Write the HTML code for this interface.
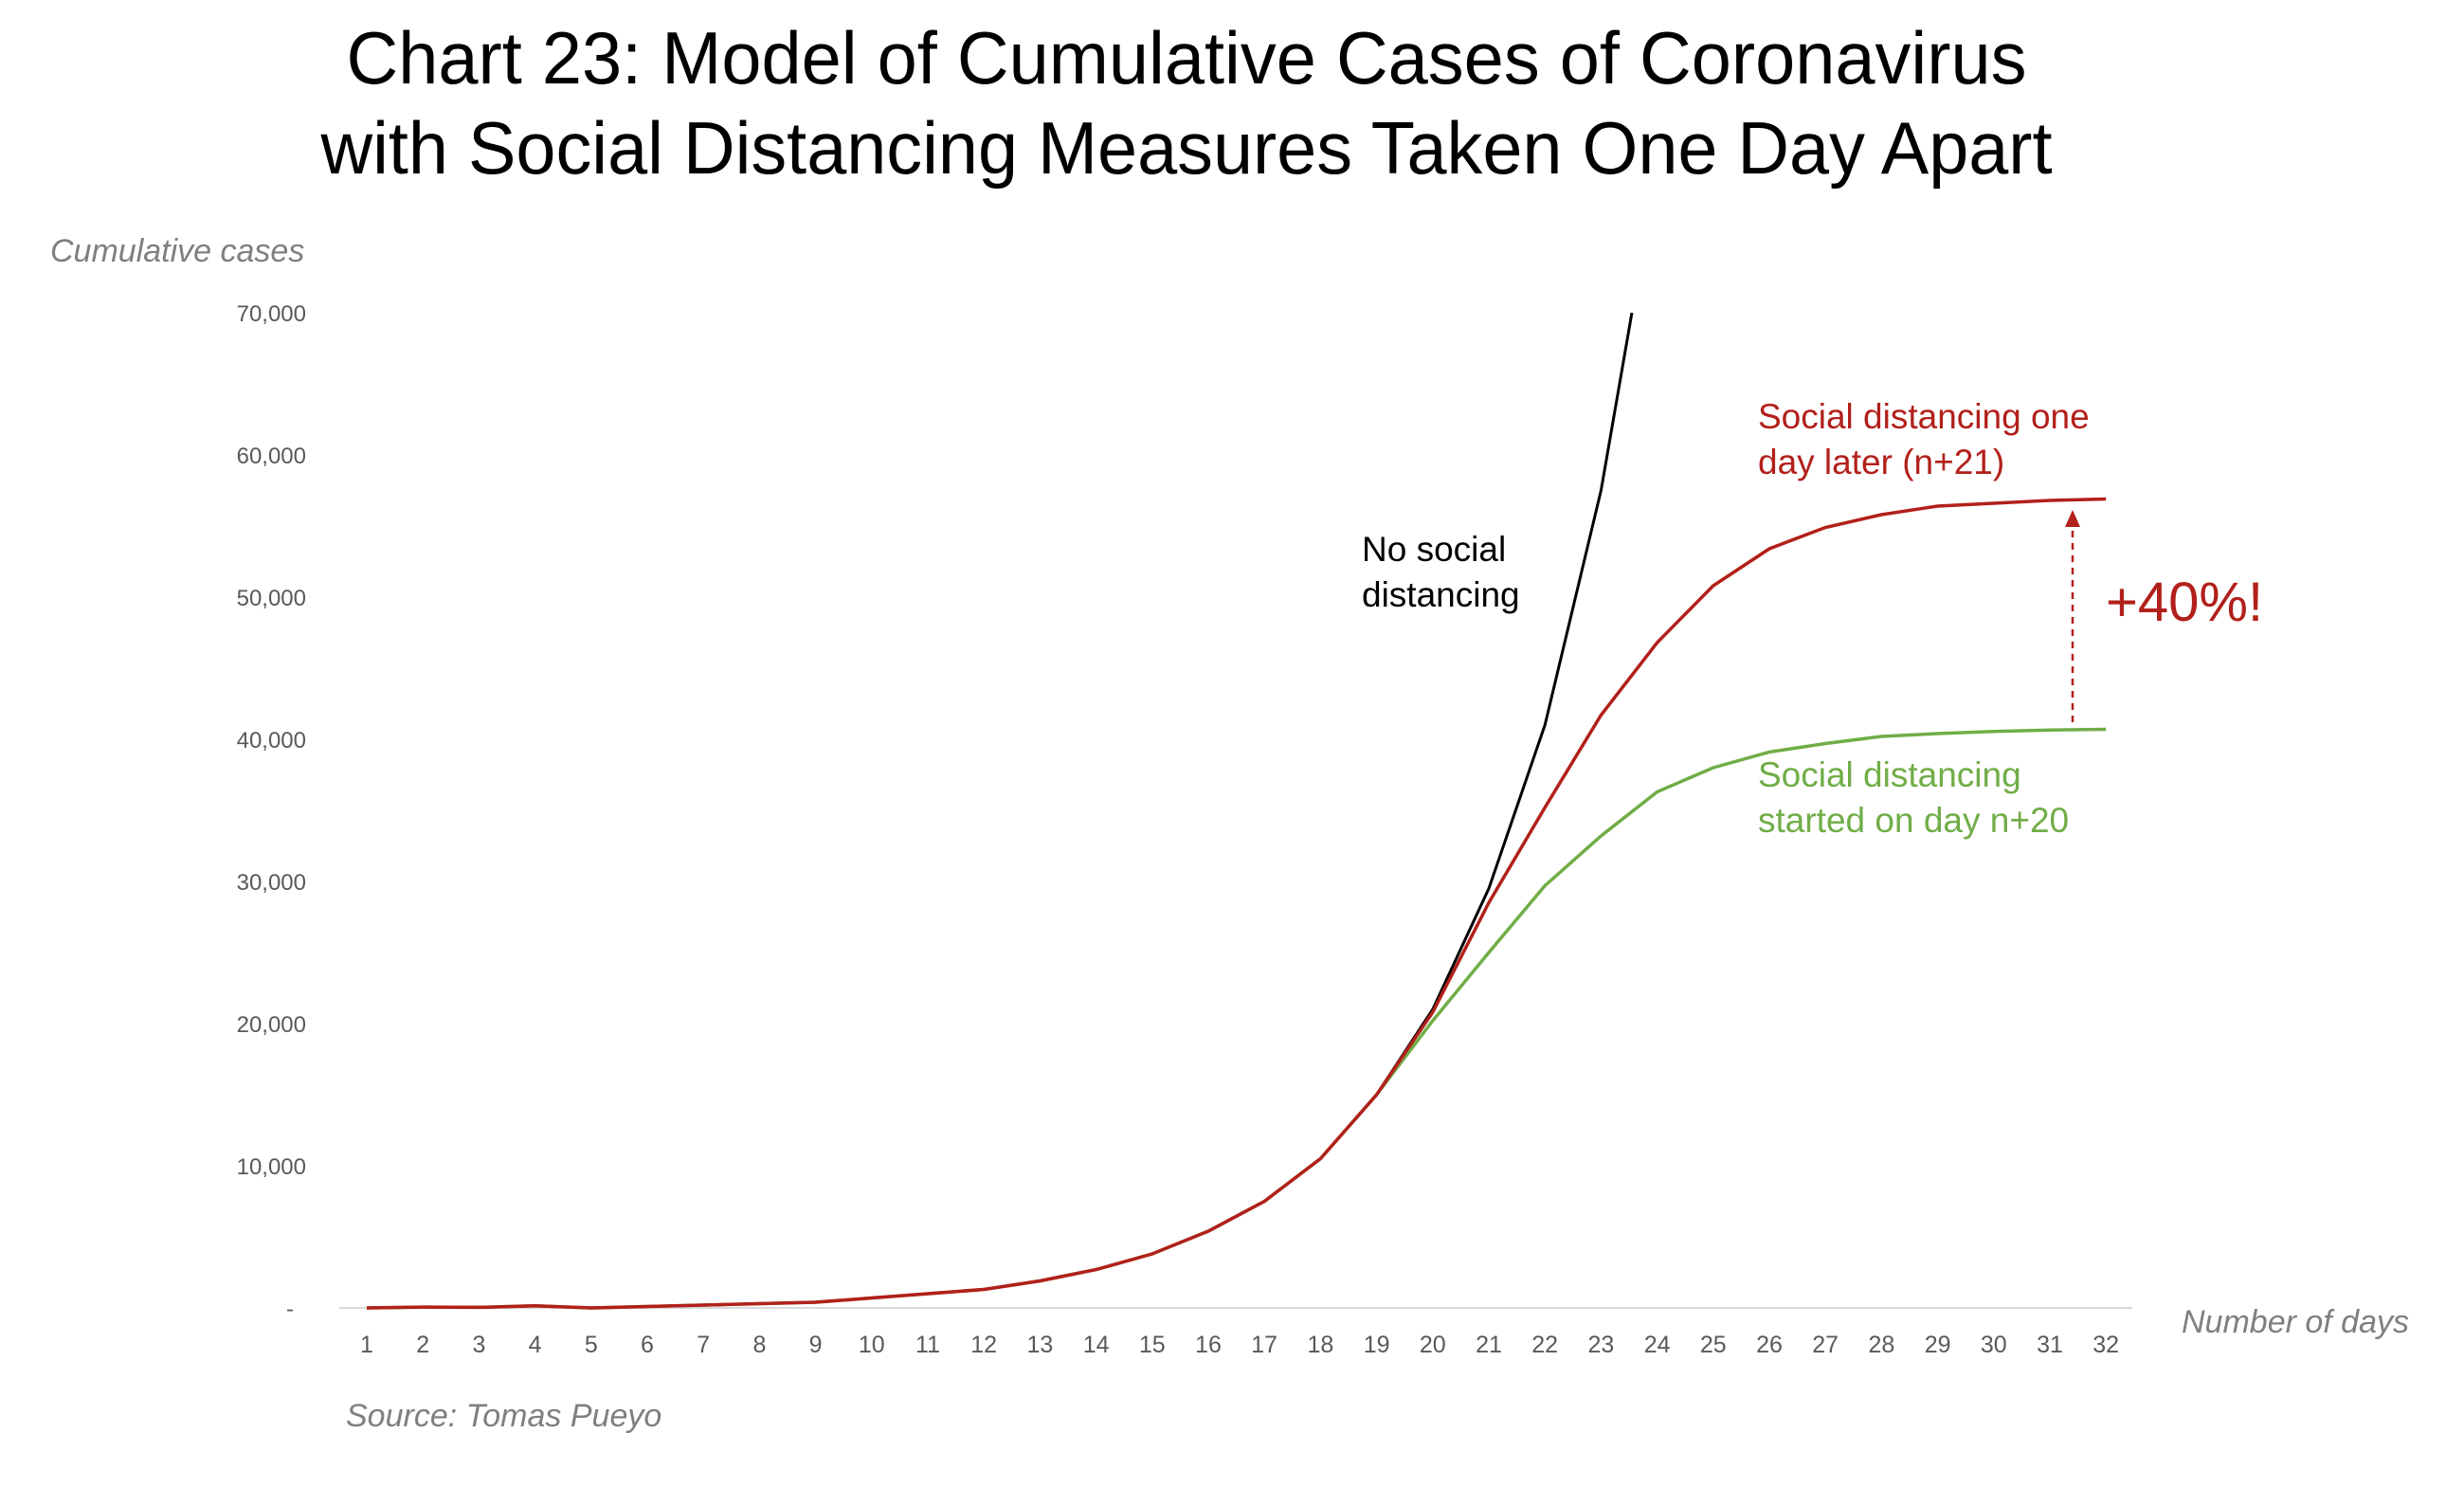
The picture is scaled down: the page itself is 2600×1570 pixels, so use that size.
<!DOCTYPE html>
<html><head><meta charset="utf-8"><style>html,body{margin:0;padding:0;background:#fff}svg{display:block}</style></head>
<body>
<svg width="2600" height="1570" viewBox="0 0 2600 1570" xmlns="http://www.w3.org/2000/svg" font-family="Liberation Sans, sans-serif">
<rect width="2600" height="1570" fill="#fff"/>
<text x="1252" y="88" font-size="78" text-anchor="middle" textLength="1773" lengthAdjust="spacingAndGlyphs">Chart 23: Model of Cumulative Cases of Coronavirus</text>
<text x="1252" y="183" font-size="78" text-anchor="middle" textLength="1827" lengthAdjust="spacingAndGlyphs">with Social Distancing Measures Taken One Day Apart</text>
<text x="53" y="276" font-size="34" font-style="italic" fill="#7f7f7f">Cumulative cases</text>
<g font-size="24" fill="#595959" text-anchor="end">
<text x="323" y="339">70,000</text><text x="323" y="489">60,000</text><text x="323" y="639">50,000</text><text x="323" y="789">40,000</text><text x="323" y="939">30,000</text><text x="323" y="1089">20,000</text><text x="323" y="1239">10,000</text><text x="310" y="1389">-</text>
</g>
<line x1="358" y1="1380" x2="2250" y2="1380" stroke="#d9d9d9" stroke-width="2"/>
<g font-size="25" fill="#595959" text-anchor="middle">
<text x="387" y="1427">1</text><text x="446.2" y="1427">2</text><text x="505.4" y="1427">3</text><text x="564.6" y="1427">4</text><text x="623.8" y="1427">5</text><text x="683" y="1427">6</text><text x="742.2" y="1427">7</text><text x="801.4" y="1427">8</text><text x="860.6" y="1427">9</text><text x="919.8" y="1427">10</text><text x="979" y="1427">11</text><text x="1038.2" y="1427">12</text><text x="1097.4" y="1427">13</text><text x="1156.6" y="1427">14</text><text x="1215.8" y="1427">15</text><text x="1275" y="1427">16</text><text x="1334.2" y="1427">17</text><text x="1393.4" y="1427">18</text><text x="1452.6" y="1427">19</text><text x="1511.8" y="1427">20</text><text x="1571" y="1427">21</text><text x="1630.2" y="1427">22</text><text x="1689.4" y="1427">23</text><text x="1748.6" y="1427">24</text><text x="1807.8" y="1427">25</text><text x="1867" y="1427">26</text><text x="1926.2" y="1427">27</text><text x="1985.4" y="1427">28</text><text x="2044.6" y="1427">29</text><text x="2103.8" y="1427">30</text><text x="2163" y="1427">31</text><text x="2222.2" y="1427">32</text>
</g>
<text x="2542" y="1406" font-size="34" font-style="italic" fill="#7f7f7f" text-anchor="end">Number of days</text>
<text x="365" y="1505" font-size="34" font-style="italic" fill="#7f7f7f">Source: Tomas Pueyo</text>
<polyline id="blk" fill="none" stroke="#000" stroke-width="3"/>
<polyline id="grn" fill="none" stroke="#70ad47" stroke-width="3.5"/>
<polyline id="red" fill="none" stroke="#b2201a" stroke-width="3.5"/>
<text x="1437" y="592" font-size="37" fill="#000">No social</text>
<text x="1437" y="640" font-size="37" fill="#000">distancing</text>
<text x="1855" y="452" font-size="37" fill="#b2201a">Social distancing one</text>
<text x="1855" y="500" font-size="37" fill="#b2201a">day later (n+21)</text>
<text x="1855" y="830" font-size="37" fill="#70ad47">Social distancing</text>
<text x="1855" y="878" font-size="37" fill="#70ad47">started on day n+20</text>
<text x="2222" y="655" font-size="58" fill="#b2201a">+40%!</text>
<line x1="2187" y1="762" x2="2187" y2="555" stroke="#b2201a" stroke-width="2.5" stroke-dasharray="7,6"/>
<polygon points="2187,538 2179,556 2195,556" fill="#b2201a"/>
<script>
var X=function(d){return 387+(d-1)*59.2},Y=function(v){return 1380-v*0.015};
var base=[0,60,40,150,0,100,200,300,400,700,1000,1300,1900,2700,3800,5400,7500,10500,15000];
function pts(arr){return arr.map(function(v,i){return X(i+1)+','+Y(v)}).join(' ')}
var red=base.concat([20800,28500,35200,41700,46800,50800,53400,54900,55800,56400,56600,56800,56900]);
var grn=base.concat([20200,25000,29700,33200,36300,38000,39100,39700,40200,40400,40550,40650,40700]);
var blk=base.concat([21000,29500,41000,57500]);
document.getElementById('red').setAttribute('points',pts(red));
document.getElementById('grn').setAttribute('points',pts(grn));
document.getElementById('blk').setAttribute('points',pts(blk)+' '+X(23.55)+','+Y(70000));
</script>
</svg>
</body></html>
